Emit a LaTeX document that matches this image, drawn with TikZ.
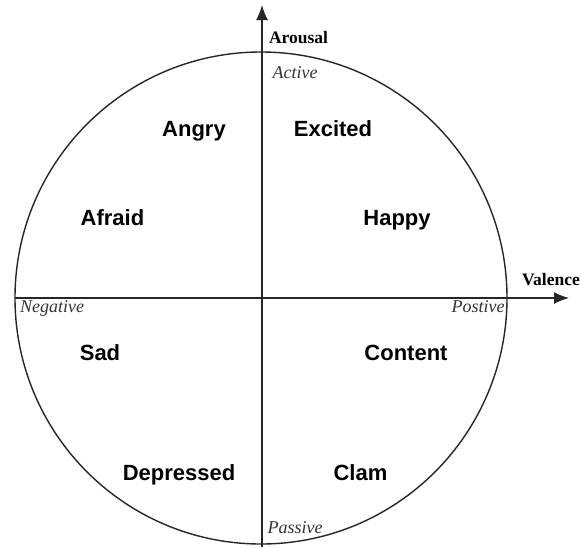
\documentclass[tikz,border=0pt]{standalone}
\usepackage{fontspec}
\setmainfont{Liberation Serif}
\newfontfamily\emofont{Liberation Sans}
\usetikzlibrary{arrows.meta}
\begin{document}
\begin{tikzpicture}[x=1pt,y=-1pt,
  axisline/.style={line width=1.4pt, draw=black!85, -{Latex[length=15pt,width=12pt]}},
  emo/.style={font=\emofont\bfseries\fontsize{22}{26}\selectfont, anchor=base, inner sep=0pt},
  axlab/.style={font=\bfseries\fontsize{17.5}{20}\selectfont, anchor=base, inner sep=0pt},
  pole/.style={font=\itshape\fontsize{18}{20}\selectfont, anchor=base, inner sep=0pt, text=black!80}]
\useasboundingbox (0,0) rectangle (581,547);
\coordinate (c) at (261,298);
\draw[line width=1.4pt, draw=black!85] (c) circle[radius=246];
\coordinate (hl) at (15,298);
\coordinate (hr) at (569,298);
\coordinate (vb) at (262,547);
\coordinate (vt) at (262,5);
\draw[axisline] (hl) -- (hr);
\draw[axisline] (vb) -- (vt);
\node[axlab] (arousal) at (298.5,43) {Arousal};
\node[axlab] (valence) at (551,285) {Valence};
\node[pole] (active) at (295,78) {Active};
\node[pole] (passive) at (295,533) {Passive};
\node[pole] (negative) at (52,312) {Negative};
\node[pole] (postive) at (478,312) {Postive};
\node[emo] (angry) at (194,136) {Angry};
\node[emo] (excited) at (333,136) {Excited};
\node[emo] (afraid) at (112.5,225) {Afraid};
\node[emo] (happy) at (397,225) {Happy};
\node[emo] (sad) at (100,360) {Sad};
\node[emo] (content) at (406,360) {Content};
\node[emo] (depressed) at (179,480) {Depressed};
\node[emo] (clam) at (360.5,480) {Clam};
\end{tikzpicture}
\end{document}
